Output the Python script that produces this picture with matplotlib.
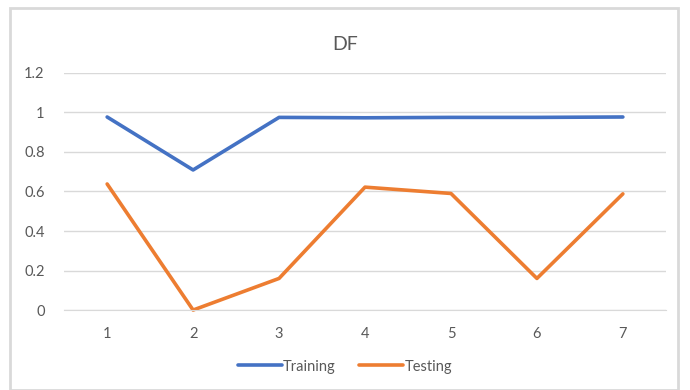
import matplotlib.pyplot as plt
from matplotlib.patches import Rectangle

# data
epochs = [1, 2, 3, 4, 5, 6, 7]
training = [0.977, 0.709, 0.975, 0.973, 0.975, 0.975, 0.977]
testing = [0.638, 0.0, 0.16, 0.622, 0.59, 0.16, 0.588]
y_ticks = [0, 0.2, 0.4, 0.6, 0.8, 1, 1.2]
y_labels = ['0', '0.2', '0.4', '0.6', '0.8', '1', '1.2']

plt.rcParams['font.family'] = ['Lato', 'DejaVu Sans']

fig = plt.figure(figsize=(6.9, 3.9), dpi=100)
ax = fig.add_axes([0.093, 0.205, 0.872, 0.608])

# outer chart border (Excel style)
fig.patches.append(Rectangle((10 / 690, 0.0), 668 / 690, 1 - 8 / 390,
                             transform=fig.transFigure, fill=False,
                             edgecolor='#d9d9d9', linewidth=2))

ax.plot(epochs, training, color='#4472C4', linewidth=2.6, label='Training',
        solid_joinstyle='round', solid_capstyle='round', clip_on=False)
ax.plot(epochs, testing, color='#ED7D31', linewidth=2.6, label='Testing',
        solid_joinstyle='round', solid_capstyle='round', clip_on=False)

ax.set_xlim(0.5, 7.5)
ax.set_ylim(0, 1.2)
ax.set_yticks(y_ticks)
ax.set_yticklabels(y_labels)
ax.set_xticks(epochs)
ax.grid(axis='y', color='#d9d9d9', linewidth=1)
ax.set_axisbelow(True)
for s in ['top', 'right', 'left']:
    ax.spines[s].set_visible(False)
ax.spines['bottom'].set_color('#d9d9d9')
ax.tick_params(length=0, colors='#595959', labelsize=10.5)
ax.tick_params(axis='x', pad=12)
ax.tick_params(axis='y', pad=14)

fig.text(0.5, 0.885, 'DF', ha='center', va='center', fontsize=14, color='#595959')

fig.legend(loc='center', bbox_to_anchor=(0.5, 0.06), ncol=2, frameon=False,
           fontsize=10.5, handlelength=3, columnspacing=1.6, handletextpad=0.1,
           labelcolor='#595959')

plt.savefig('out.png', dpi=100)
